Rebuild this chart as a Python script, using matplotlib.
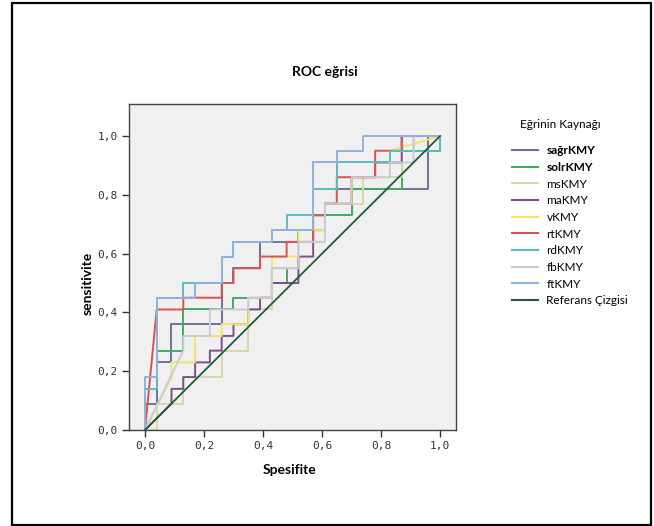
import matplotlib
matplotlib.use('Agg')
import matplotlib.pyplot as plt
from matplotlib.patches import Rectangle

# Curve names and colours (legend order)
names = ['sağrKMY', 'solrKMY', 'msKMY', 'maKMY', 'vKMY', 'rtKMY', 'rdKMY', 'fbKMY', 'ftKMY']
colors = ['#6e7199', '#45a865', '#d8d8aa', '#7b4f8c', '#f0e46a', '#d9544f', '#5fbcbc', '#cacad8', '#90b2dc']

# ROC points (1 - specificity, sensitivity)
sagr_x = [0, 0, 0.04, 0.04, 0.09, 0.09, 0.26, 0.26, 0.30, 0.30, 0.39, 0.39, 0.52, 0.52, 0.57, 0.57, 0.96, 0.96, 1.0]
sagr_y = [0, 0.09, 0.09, 0.23, 0.23, 0.36, 0.36, 0.50, 0.50, 0.55, 0.55, 0.64, 0.64, 0.68, 0.68, 0.82, 0.82, 1.0, 1.0]

solr_x = [0, 0, 0.04, 0.04, 0.13, 0.13, 0.30, 0.30, 0.43, 0.43, 0.48, 0.48, 0.52, 0.52, 0.57, 0.57, 0.70, 0.70, 0.87, 0.87, 1.0, 1.0]
solr_y = [0, 0.14, 0.14, 0.27, 0.27, 0.41, 0.41, 0.45, 0.45, 0.50, 0.50, 0.55, 0.55, 0.68, 0.68, 0.73, 0.73, 0.82, 0.82, 0.95, 0.95, 1.0]

ms_x = [0, 0.04, 0.04, 0.13, 0.13, 0.26, 0.26, 0.35, 0.35, 0.43, 0.43, 0.52, 0.52, 0.61, 0.61, 0.74, 0.74, 0.87, 0.87, 0.91, 0.91, 1.0]
ms_y = [0, 0, 0.09, 0.09, 0.18, 0.18, 0.27, 0.27, 0.41, 0.41, 0.55, 0.55, 0.64, 0.64, 0.77, 0.77, 0.86, 0.86, 0.95, 0.95, 1.0, 1.0]

ma_x = [0, 0.09, 0.09, 0.13, 0.13, 0.17, 0.17, 0.22, 0.22, 0.26, 0.26, 0.30, 0.30, 0.35, 0.35, 0.39, 0.39, 0.43, 0.43, 0.52, 0.52, 0.57, 0.57, 0.61, 0.61, 0.70, 0.70, 0.78, 0.78, 0.87, 0.87, 1.0]
ma_y = [0, 0.09, 0.14, 0.14, 0.18, 0.18, 0.23, 0.23, 0.27, 0.27, 0.32, 0.32, 0.36, 0.36, 0.41, 0.41, 0.45, 0.45, 0.50, 0.50, 0.59, 0.59, 0.68, 0.68, 0.77, 0.77, 0.86, 0.86, 0.91, 0.91, 1.0, 1.0]

v_x = [0, 0.09, 0.09, 0.17, 0.17, 0.26, 0.26, 0.35, 0.35, 0.43, 0.43, 0.52, 0.52, 0.61, 0.61, 0.70, 0.70, 0.83, 0.83, 1.0]
v_y = [0, 0.18, 0.23, 0.23, 0.32, 0.32, 0.36, 0.36, 0.45, 0.45, 0.59, 0.59, 0.68, 0.68, 0.77, 0.77, 0.86, 0.86, 0.95, 1.0]

rt_x = [0, 0.04, 0.13, 0.13, 0.26, 0.26, 0.30, 0.30, 0.39, 0.39, 0.48, 0.48, 0.57, 0.57, 0.61, 0.61, 0.65, 0.65, 0.78, 0.78, 0.87, 0.87, 1.0]
rt_y = [0, 0.41, 0.41, 0.45, 0.45, 0.50, 0.50, 0.55, 0.55, 0.59, 0.59, 0.64, 0.64, 0.73, 0.73, 0.77, 0.77, 0.86, 0.86, 0.95, 0.95, 1.0, 1.0]

rd_x = [0, 0, 0.04, 0.04, 0.13, 0.13, 0.26, 0.26, 0.30, 0.30, 0.43, 0.43, 0.48, 0.48, 0.57, 0.57, 0.65, 0.65, 0.83, 0.83, 1.0, 1.0]
rd_y = [0, 0.14, 0.14, 0.45, 0.45, 0.50, 0.50, 0.59, 0.59, 0.64, 0.64, 0.68, 0.68, 0.73, 0.73, 0.82, 0.82, 0.91, 0.91, 0.95, 0.95, 1.0]

fb_x = [0, 0.13, 0.13, 0.22, 0.22, 0.35, 0.35, 0.43, 0.43, 0.52, 0.52, 0.61, 0.61, 0.70, 0.70, 0.83, 0.83, 0.91, 0.91, 1.0]
fb_y = [0, 0.27, 0.32, 0.32, 0.41, 0.41, 0.45, 0.45, 0.55, 0.55, 0.64, 0.64, 0.77, 0.77, 0.86, 0.86, 0.91, 0.91, 1.0, 1.0]

ft_x = [0, 0, 0.04, 0.04, 0.17, 0.17, 0.26, 0.26, 0.30, 0.30, 0.43, 0.43, 0.57, 0.57, 0.65, 0.65, 0.74, 0.74, 1.0]
ft_y = [0, 0.18, 0.18, 0.45, 0.45, 0.50, 0.50, 0.59, 0.59, 0.64, 0.64, 0.68, 0.68, 0.91, 0.91, 0.95, 0.95, 1.0, 1.0]

ref_x = [0, 1]
ref_y = [0, 1]

ticks = [0.0, 0.2, 0.4, 0.6, 0.8, 1.0]
tick_labels = ['0,0', '0,2', '0,4', '0,6', '0,8', '1,0']

curves = [(sagr_x, sagr_y), (solr_x, solr_y), (ms_x, ms_y), (ma_x, ma_y), (v_x, v_y),
          (rt_x, rt_y), (rd_x, rd_y), (fb_x, fb_y), (ft_x, ft_y)]

plt.rcParams['font.family'] = ['Lato', 'DejaVu Sans']

fig = plt.figure(figsize=(6.54, 5.26), dpi=100)
fig.patches.append(Rectangle((12 / 654, 1 - 525 / 526), 639 / 654, 522 / 526,
                             transform=fig.transFigure, fill=False, edgecolor='black', linewidth=1.6))

ax = fig.add_axes([129 / 654, 1 - 430 / 526, 327 / 654, 326 / 526])
ax.set_facecolor('#f0f0f0')

handles = []
for (cx, cy), name, col in zip(curves, names, colors):
    h, = ax.plot(cx, cy, color=col, linewidth=1.4, label=name)
    handles.append(h)
h, = ax.plot(ref_x, ref_y, color='#1e5b3c', linewidth=1.3, label='Referans Çizgisi')
handles.append(h)

ax.set_xlim(-0.054, 1.054)
ax.set_ylim(0, 1.109)
ax.set_xticks(ticks)
ax.set_xticklabels(tick_labels, family='DejaVu Sans Mono', fontsize=8)
ax.set_yticks(ticks)
ax.set_yticklabels(tick_labels, family='DejaVu Sans Mono', fontsize=8)
ax.tick_params(direction='out', length=5, width=1, colors='#333333', pad=3)
for s in ax.spines.values():
    s.set_color('#444444')
    s.set_linewidth(1)

fig.text(325 / 654, 1 - 72 / 526, 'ROC eğrisi', ha='center', va='center', fontsize=10, fontweight='bold')
fig.text(290 / 654, 1 - 470 / 526, 'Spesifite', ha='center', va='center', fontsize=10, fontweight='bold')
fig.text(88 / 654, 1 - 283 / 526, 'sensitivite', ha='center', va='center', fontsize=10,
         fontweight='bold', rotation=90)
fig.text(560 / 654, 1 - 124 / 526, 'Eğrinin Kaynağı', ha='center', va='center', fontsize=8.5)

leg = fig.legend(handles=handles, loc='upper left', bbox_to_anchor=(504 / 654, 1 - 137 / 526),
                 frameon=False, fontsize=8.5,
                 handlelength=2.2, handletextpad=0.7, labelspacing=0.48, borderpad=0.2)
for t in leg.get_texts()[:2]:
    t.set_fontweight('bold')
for ln in leg.get_lines():
    ln.set_linewidth(1.5)

plt.savefig('out.png', dpi=100)
